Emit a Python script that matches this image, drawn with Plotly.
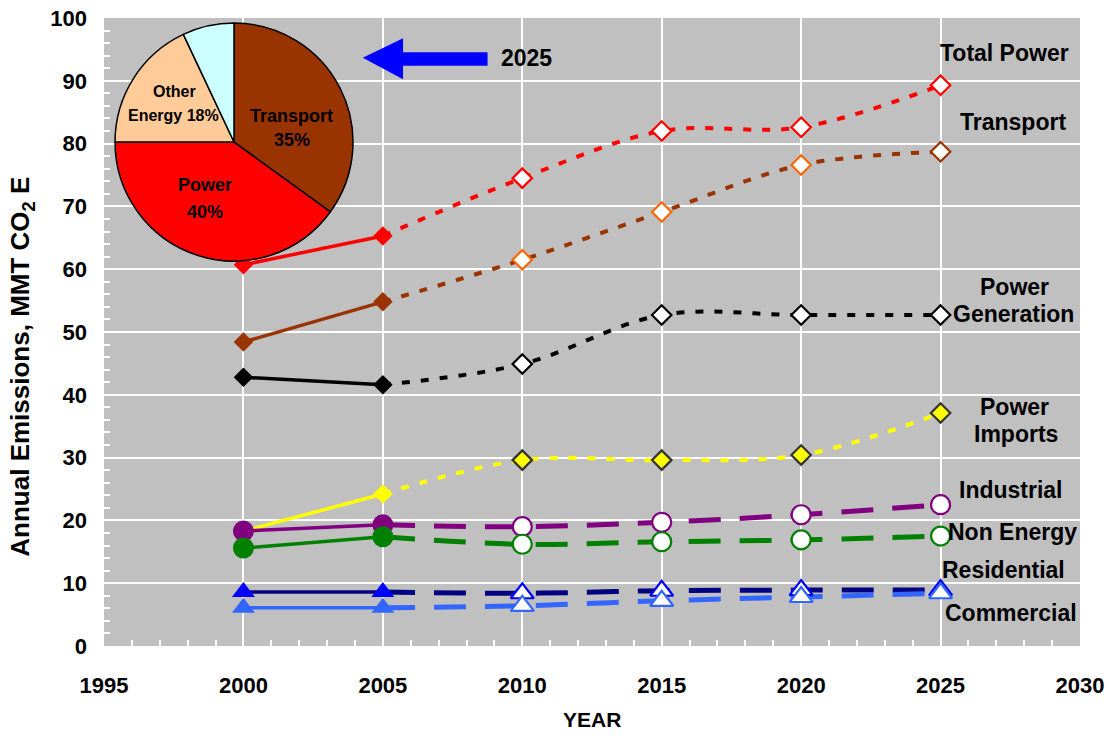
import plotly.graph_objects as go

FONT = "Liberation Sans, Arial, sans-serif"

# ---------------- data ----------------
hist_years = [2000, 2005]
proj_years = [2005, 2010, 2015, 2020, 2025]

total_power_hist = [60.7, 65.3]
total_power_proj = [65.3, 74.5, 82.0, 82.6, 89.3]

transport_hist = [48.4, 54.8]
transport_proj = [54.8, 61.5, 69.1, 76.6, 78.7]

power_gen_hist = [42.8, 41.6]
power_gen_proj = [41.6, 44.9, 52.7, 52.7, 52.7]

power_imp_hist = [18.3, 24.2]
power_imp_proj = [24.2, 29.6, 29.6, 30.4, 37.1]

industrial_hist = [18.3, 19.3]
industrial_proj = [19.3, 19.0, 19.7, 20.9, 22.5]

non_energy_hist = [15.6, 17.4]
non_energy_proj = [17.4, 16.2, 16.6, 16.9, 17.5]

residential_hist = [8.6, 8.6]
residential_proj = [8.6, 8.4, 8.8, 8.9, 8.9]

commercial_hist = [6.1, 6.1]
commercial_proj = [6.1, 6.4, 7.2, 7.8, 8.4]

pie_labels = ["Transport", "Power", "Other Energy", "Other"]
pie_values = [35, 40, 18, 7]

x_ticks = [1995, 2000, 2005, 2010, 2015, 2020, 2025, 2030]
y_ticks = [0, 10, 20, 30, 40, 50, 60, 70, 80, 90, 100]

# ---------------- styles ----------------
series = [
    ("Power Imports", power_imp_hist, power_imp_proj, "#FFFF00", "diamond", 15, 15,
     ["#333333"] * 4, "#FFFF00", "8px,11px", 4),
    ("Total Power", total_power_hist, total_power_proj, "#FF0000", "diamond", 15, 15,
     ["#FF0000"] * 4, "white", "8px,11px", 4),
    ("Transport", transport_hist, transport_proj, "#993300", "diamond", 15, 15,
     ["#FF6600", "#FF6600", "#FF6600", "#993300"], "white", "8px,11px", 4),
    ("Power Generation", power_gen_hist, power_gen_proj, "#000000", "diamond", 15, 15,
     ["#000000"] * 4, "white", "8px,11px", 4),
    ("Industrial", industrial_hist, industrial_proj, "#800080", "circle", 21, 19,
     ["#800080"] * 4, "white", "32px,19px", 5),
    ("Non Energy", non_energy_hist, non_energy_proj, "#008000", "circle", 21, 19,
     ["#008000"] * 4, "white", "32px,19px", 5),
    ("Residential", residential_hist, residential_proj, "#000080", "triangle-up", 20, 20,
     ["#0000FF"] * 4, "white", "32px,19px", 5),
    ("Commercial", commercial_hist, commercial_proj, "#3366FF", "triangle-up", 20, 20,
     ["#3366FF"] * 4, "white", "32px,19px", 5),
]
hist_marker_color = {"Residential": "#0000FF"}

fig = go.Figure()

# projection lines
for name, h, p, col, sym, hs, ps, plc, pf, dash, w in series:
    fig.add_trace(go.Scatter(
        x=proj_years, y=p, mode="lines",
        line=dict(color=col, width=w, dash=dash, shape="spline", smoothing=1),
        hoverinfo="skip", showlegend=False))

# historic lines + filled markers, hollow projection markers
for name, h, p, col, sym, hs, ps, plc, pf, dash, w in series:
    mcol = hist_marker_color.get(name, col)
    fig.add_trace(go.Scatter(
        x=hist_years, y=h, mode="lines+markers", name=name,
        line=dict(color=col, width=3.5, shape="spline"),
        marker=dict(symbol=sym, size=hs, color=mcol, line=dict(width=0)),
        showlegend=False))
    fig.add_trace(go.Scatter(
        x=proj_years[1:], y=p[1:], mode="markers", name=name,
        marker=dict(symbol=sym, size=ps, color=pf, line=dict(width=2.2, color=plc)),
        showlegend=False))

# pie inset
fig.add_trace(go.Pie(
    labels=pie_labels, values=pie_values, textinfo="none",
    sort=False, direction="clockwise", rotation=0,
    marker=dict(colors=["#993300", "#FF0000", "#FFCC99", "#CCFFFF"],
                line=dict(color="black", width=1.5)),
    domain=dict(x=[0.0113, 0.2551], y=[0.613, 0.992]),
    showlegend=False, hoverinfo="label+percent"))

# arrow
fig.add_shape(
    type="path", xref="paper", yref="paper",
    path="M 0.2651 0.9368 L 0.3064 0.9677 L 0.3064 0.9454 L 0.3930 0.9454 "
         "L 0.3930 0.9241 L 0.3064 0.9241 L 0.3064 0.9024 Z",
    fillcolor="#0000FF", line=dict(width=0))


def txt(t, xp, yp, size, angle=0):
    fig.add_annotation(text=t, x=xp, y=yp, xref="paper", yref="paper",
                       showarrow=False, xanchor="center", yanchor="middle",
                       textangle=angle,
                       font=dict(family=FONT, size=size, color="black", weight="bold"))


# pie slice labels
txt("Transport", 0.1926, 0.8439, 18)
txt("35%", 0.1926, 0.8057, 18)
txt("Power", 0.1035, 0.7341, 18)
txt("40%", 0.1035, 0.6911, 18)
txt("Other", 0.0727, 0.8822, 16)
txt("Energy 18%", 0.0707, 0.8455, 16)

# series labels
txt("2025", 0.4324, 0.9369, 23)
txt("Total Power", 0.923, 0.944, 23)
txt("Transport", 0.931, 0.834, 23)
txt("Power", 0.9334, 0.5717, 23)
txt("Generation", 0.9314, 0.5287, 23)
txt("Power", 0.9334, 0.3806, 23)
txt("Imports", 0.9344, 0.3376, 23)
txt("Industrial", 0.929, 0.248, 23)
txt("Non Energy", 0.931, 0.1815, 23)
txt("Residential", 0.922, 0.121, 23)
txt("Commercial", 0.929, 0.0525, 23)

# axis titles
txt("Annual Emissions, MMT CO<sub>2</sub> E", -0.0845, 0.444, 26, angle=-90)
txt("YEAR", 0.5, -0.1178, 21)

# page body has an 8px margin: shift the figure margins to compensate
fig.update_layout(
    width=1114, height=736,
    margin=dict(l=96, r=42, t=10, b=98),
    paper_bgcolor="white", plot_bgcolor="#C0C0C0",
    showlegend=False,
    font=dict(family=FONT, color="black"),
    xaxis=dict(range=[1995, 2030], tickvals=x_ticks, showgrid=True,
               gridcolor="white", gridwidth=1.5, zeroline=False, showline=False,
               ticks="inside", ticklen=6, tickcolor="white", tickwidth=1.5,
               minor=dict(dtick=1, tick0=1995, ticks="inside", ticklen=6,
                          tickcolor="white", tickwidth=1.5, showgrid=False),
               tickfont=dict(family=FONT, size=22, color="black", weight="bold"),
               ticklabelstandoff=24, ticklabeloverflow="allow",
               automargin=False, fixedrange=True),
    yaxis=dict(range=[0, 100], tickvals=y_ticks, showgrid=True,
               gridcolor="white", gridwidth=1.5, zeroline=False, showline=False,
               ticks="inside", ticklen=6, tickcolor="white", tickwidth=1.5,
               minor=dict(dtick=2, tick0=0, ticks="inside", ticklen=6,
                          tickcolor="white", tickwidth=1.5, showgrid=False),
               tickfont=dict(family=FONT, size=22, color="black", weight="bold"),
               ticklabelstandoff=16, ticklabeloverflow="allow",
               automargin=False, fixedrange=True),
)

fig.write_html("out.html")
